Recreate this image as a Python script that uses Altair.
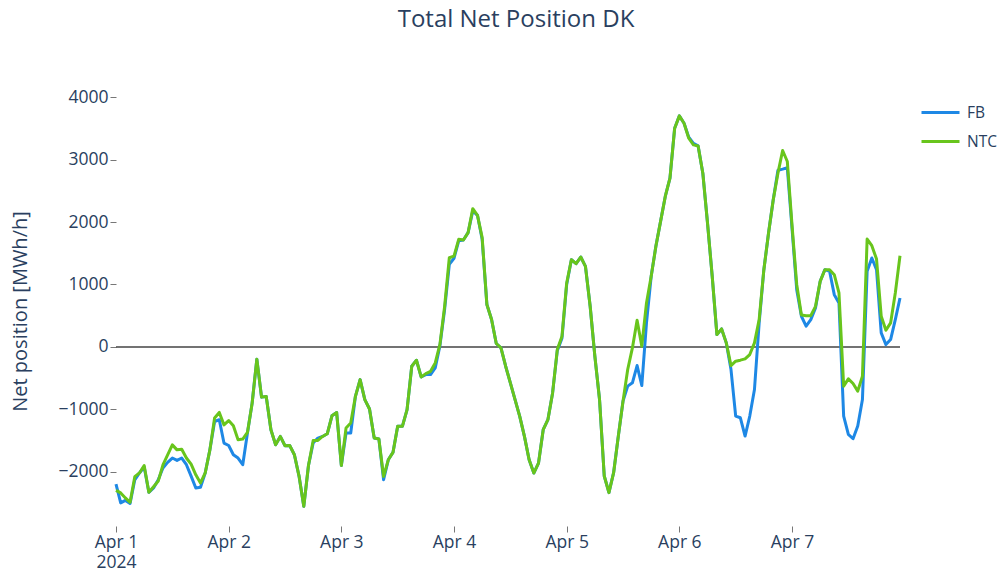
import altair as alt
import pandas as pd

# ---- data (hourly, Apr 1 00:00 .. Apr 7 23:00) ----
series_names = ["FB", "NTC"]
series_colors = ["#1e88e5", "#68c51c"]

ntc = [
    # Apr 1
    -2300, -2340, -2420, -2490, -2080, -2020, -1900, -2330, -2240, -2150, -1890, -1730,
    -1570, -1650, -1640, -1780, -1880, -2050, -2180, -2020, -1650, -1140, -1050, -1250,
    # Apr 2
    -1180, -1264, -1488, -1477, -1371, -901, -197, -805, -795, -1328, -1568, -1435,
    -1584, -1580, -1728, -2075, -2555, -1900, -1499, -1499, -1435, -1392, -1104, -1051,
    # Apr 3
    -1900, -1300, -1220, -792, -524, -845, -995, -1461, -1477, -2076, -1809, -1691,
    -1273, -1273, -1006, -310, -214, -482, -428, -391, -257, 40, 650, 1428,
    # Apr 4
    1455, 1723, 1712, 1830, 2215, 2108, 1750, 680, 439, 54, -16, -310,
    -578, -845, -1113, -1434, -1808, -2022, -1862, -1327, -1166, -738, -43, 171,
    # Apr 5
    1024, 1397, 1333, 1440, 1291, 651, -149, -843, -2069, -2336, -2016, -1429,
    -869, -363, -16, 427, 11, 704, 1131, 1611, 2011, 2411, 2704, 3504,
    # Apr 6
    3701, 3584, 3344, 3237, 3220, 2784, 1984, 1131, 197, 288, 64, -299,
    -229, -213, -192, -123, 64, 437, 1237, 1824, 2357, 2784, 3147, 2970,
    # Apr 7
    1950, 1000, 510, 500, 500, 650, 1050, 1237, 1237, 1157, 864, -629,
    -512, -587, -709, -469, 1728, 1621, 1408, 491, 267, 384, 864, 1461,
]

fb = [
    # Apr 1
    -2200, -2500, -2460, -2510, -2130, -2020, -1925, -2330, -2260, -2130, -1940, -1850,
    -1781, -1819, -1781, -1888, -2070, -2261, -2250, -2021, -1648, -1195, -1168, -1541,
    # Apr 2
    -1580, -1728, -1781, -1888, -1381, -901, -197, -805, -795, -1328, -1568, -1435,
    -1584, -1580, -1728, -2075, -2555, -1900, -1541, -1461, -1435, -1392, -1104, -1051,
    # Apr 3
    -1900, -1380, -1380, -792, -524, -845, -995, -1461, -1477, -2129, -1809, -1691,
    -1273, -1273, -1006, -310, -214, -482, -444, -444, -337, 20, 600, 1321,
    # Apr 4
    1420, 1700, 1712, 1830, 2180, 2108, 1720, 680, 439, 54, -16, -310,
    -578, -845, -1113, -1434, -1808, -2022, -1862, -1327, -1166, -738, -60, 140,
    # Apr 5
    1000, 1397, 1333, 1440, 1291, 651, -149, -843, -2069, -2336, -2016, -1429,
    -869, -629, -576, -299, -619, 384, 1131, 1611, 2011, 2411, 2704, 3504,
    # Apr 6
    3701, 3584, 3360, 3260, 3220, 2784, 1984, 1131, 197, 288, 64, -363,
    -1109, -1136, -1429, -1109, -683, 384, 1237, 1824, 2357, 2830, 2848, 2870,
    # Apr 7
    1900, 917, 491, 331, 437, 624, 1051, 1237, 1211, 837, 704, -1109,
    -1403, -1472, -1269, -843, 1211, 1424, 1237, 224, 37, 117, 437, 784,
]

times = [t.strftime("%Y-%m-%dT%H:%M:%S")
         for t in pd.date_range("2024-04-01 00:00", periods=len(ntc), freq="h")]
y_ticks = [-2000, -1000, 0, 1000, 2000, 3000, 4000]
day_ticks = [1, 2, 3, 4, 5, 6, 7]

df = pd.DataFrame({
    "time": times + times,
    "series": ["FB"] * len(fb) + ["NTC"] * len(ntc),
    "value": fb + ntc,
})

FONT = "Open Sans"
TXT = "#2a3f5f"

x_enc = alt.X(
    "time:T",
    scale=alt.Scale(
        domain=[alt.DateTime(year=2024, month=4, date=1, hours=0),
                alt.DateTime(year=2024, month=4, date=7, hours=23)],
        nice=False,
    ),
    axis=alt.Axis(
        values=[alt.DateTime(year=2024, month=4, date=d) for d in day_ticks],
        labelExpr="date(datum.value) == 1 ? [timeFormat(datum.value, '%b %-d'), '2024'] : timeFormat(datum.value, '%b %-d')",
        title=None,
        grid=False,
        labelLineHeight=20,
        labelPadding=1,
        labelFlush=False,
    ),
)

y_enc = alt.Y(
    "value:Q",
    scale=alt.Scale(domain=[-2870, 4020], nice=False, zero=False),
    axis=alt.Axis(
        values=y_ticks,
        format="d",
        title="Net position [MWh/h]",
        titleX=-96,
        titleY=215,
        titleAngle=-90,
        titleAlign="center",
        titleBaseline="middle",
        labelPadding=2,
    ),
)

zero_rule = alt.Chart(pd.DataFrame({"z": [0]})).mark_rule(
    color="#444444", strokeWidth=1.5
).encode(y=alt.datum(0))

lines = alt.Chart(df).mark_line(strokeWidth=3, strokeJoin="round").encode(
    x=x_enc,
    y=y_enc,
    color=alt.Color(
        "series:N",
        scale=alt.Scale(domain=series_names, range=series_colors),
        legend=alt.Legend(
            title=None,
            orient="none",
            legendX=804,
            legendY=-4,
            symbolType="stroke",
            symbolSize=1444,
            symbolStrokeWidth=3,
            labelFont=FONT,
            labelFontSize=15.5,
            labelColor=TXT,
            labelOffset=6,
            rowPadding=-10,
            padding=0,
        ),
    ),
)

chart = alt.layer(zero_rule, lines).properties(
    width=784,
    height=430,
    autosize=alt.AutoSizeParams(type="none"),
    padding={"left": 108, "top": 88, "right": 100, "bottom": 45},
    title=alt.TitleParams(
        "Total Net Position DK",
        font=FONT,
        fontSize=24,
        fontWeight="normal",
        color=TXT,
        anchor="middle",
        dx=8,
        offset=56,
    ),
).configure_view(stroke=None).configure_axis(
    labelFont=FONT,
    labelFontSize=17.5,
    labelColor=TXT,
    titleFont=FONT,
    titleFontSize=20,
    titleFontWeight="normal",
    titleColor=TXT,
    domain=False,
    gridColor="#dedede",
    gridWidth=1,
    tickColor="#777777",
    tickSize=6,
)

chart.save("out.html", embed_options={"renderer": "svg", "actions": False})
